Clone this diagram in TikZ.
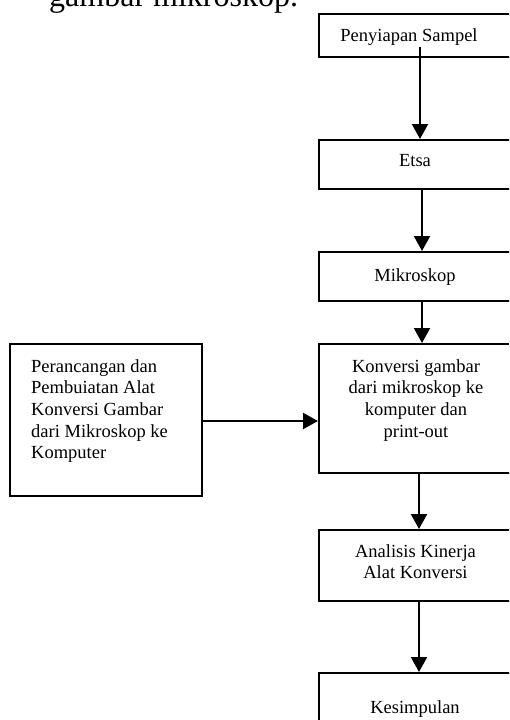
\documentclass[tikz,border=0pt]{standalone}
\usepackage{fontspec}
\setmainfont{Liberation Serif}
\usetikzlibrary{arrows.meta}
\begin{document}
\begin{tikzpicture}[x=1pt,y=-1pt,
  box/.style={draw,line width=2pt,inner sep=0pt,anchor=north west},
  txt/.style={inner sep=0pt,anchor=base,align=center,font=\fontsize{18.5}{21.7}\selectfont},
  arr/.style={line width=2.2pt,-{Triangle[width=16pt,length=15pt]}}]
\useasboundingbox (0,0) rectangle (509,720);
\clip (0,0) rectangle (509,720);
% heading fragment (cut off at the top, as in the reference)
\node[inner sep=0pt,anchor=base west,font=\fontsize{32}{38}\selectfont] (head) at (49,6) {gambar mikroskop.};
% boxes
\node[box,minimum width=194pt,minimum height=43pt] (b1) at (318,13) {};
\node[box,minimum width=194pt,minimum height=49pt] (b2) at (318,139) {};
\node[box,minimum width=194pt,minimum height=49pt] (b3) at (318,251) {};
\node[box,minimum width=194pt,minimum height=129pt] (b4) at (318,343) {};
\node[box,minimum width=194pt,minimum height=71pt] (b5) at (318,529) {};
\node[box,minimum width=194pt,minimum height=60pt] (b6) at (318,672) {};
\node[box,minimum width=192pt,minimum height=152pt] (left) at (9,343) {};
% texts (base anchor of multi-line nodes = last line's baseline)
\node[txt] (t1) at (409,41.7) {Penyiapan Sampel};
\node[txt] (t2) at (415,166.7) {Etsa};
\node[txt] (t3) at (415,281) {Mikroskop};
\node[txt] (t4) at (416,437.1) {Konversi gambar\\dari mikroskop ke\\komputer dan\\print-out};
\node[txt] (t5) at (415.5,578.7) {Analisis Kinerja\\Alat Konversi};
\node[txt] (t6) at (415,713) {Kesimpulan};
\node[txt,align=left,anchor=base west] (tl) at (31,458.8) {Perancangan dan\\Pembuiatan Alat\\Konversi Gambar\\dari Mikroskop ke\\Komputer};
% connectors
\coordinate (p1) at (420,47);
\draw[arr] (p1) -- (p1 |- b2.north);
\draw[arr] ([xshift=6pt]b2.south) -- ([xshift=6pt]b3.north);
\draw[arr] ([xshift=6pt]b3.south) -- ([xshift=6pt]b4.north);
\draw[arr] ([xshift=3pt]b4.south) -- ([xshift=3pt]b5.north);
\draw[arr] ([xshift=3pt]b5.south) -- ([xshift=3pt]b6.north);
\draw[arr] ([yshift=-1pt]left.east) -- ([yshift=-1pt]left.east -| b4.west);
\end{tikzpicture}
\end{document}
